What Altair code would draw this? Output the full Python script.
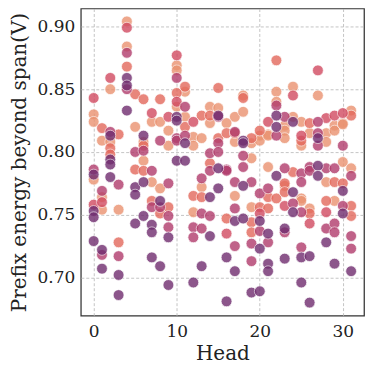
import altair as alt
import pandas as pd

# values per head (0..31)
head_values = [
    [.843, .830, .824, .786, .782, .778, .758, .753, .748, .729],
    [.819, .809, .769, .764, .760, .754, .722, .718, .707],
    [.859, .850, .816, .813, .808, .803, .798, .794, .790, .780],
    [.814, .774, .754, .728, .717, .702, .686],
    [.904, .899, .884, .879, .868, .859, .853, .850, .833],
    [.846, .820, .800, .786, .772, .766, .743],
    [.842, .813, .808, .805, .801, .793, .785, .776, .749],
    [.831, .824, .785, .776, .761, .756, .742, .736, .716],
    [.842, .824, .809, .771, .761, .756, .751, .709],
    [.828, .817, .805, .775, .756, .749, .740, .732, .694],
    [.877, .869, .865, .859, .847, .840, .836, .828, .825, .811, .809, .793],
    [.852, .848, .836, .828, .820, .813, .807, .793],
    [.824, .812, .805, .765, .752, .740, .732, .696],
    [.829, .811, .779, .772, .764, .751, .739, .709],
    [.836, .829, .823, .799, .791, .785, .764, .749, .733],
    [.851, .835, .829, .828, .811, .807, .800, .787, .771],
    [.823, .815, .786, .785, .747, .735, .716, .681],
    [.828, .816, .815, .808, .776, .765, .755, .745, .725, .705],
    [.845, .843, .832, .809, .807, .797, .788, .773, .747],
    [.811, .807, .795, .776, .756, .744, .736, .727, .713, .688],
    [.817, .813, .809, .767, .756, .751, .745, .737, .723, .689],
    [.824, .814, .813, .788, .771, .764, .755, .735, .728, .711, .705],
    [.873, .848, .840, .837, .829, .820, .813, .781, .763],
    [.828, .821, .817, .811, .787, .775, .773, .768, .757, .739, .736, .715],
    [.852, .845, .828, .824, .784, .768, .759, .752],
    [.824, .813, .809, .805, .783, .776, .763, .761, .752, .724, .716, .696],
    [.823, .815, .788, .785, .755, .751, .743, .717, .680],
    [.865, .845, .824, .815, .811, .805, .789, .781],
    [.827, .815, .808, .787, .776, .761, .752, .739, .728],
    [.829, .821, .817, .787, .776, .761, .743, .736, .711],
    [.831, .823, .822, .805, .792, .775, .769, .757, .751],
    [.833, .829, .787, .781, .757, .749, .733, .723, .705],
]

# colour group per point: P peach, R red, K pink, M magenta, U purple
head_groups = [
    "KPPMUPKUUU",
    "RPMPKPUMU",
    "KPMUPRRUUU",
    "RMPRMUU",
    "PKPMRUUMU",
    "RPMRUUU",
    "RUPRMPRUU",
    "KPMPRMUUU",
    "RPMPUMRU",
    "KPPMRMMUU",
    "KPPMRKPUUMMU",
    "RPMPRMUU",
    "KPPRPMMU",
    "RPMPRMMU",
    "PRPMRMUMU",
    "RPUMRMMUU",
    "PRMMRKUU",
    "PMRPMPMUMU",
    "PRPUUMMUU",
    "RPPMPRRMMU",
    "RPPMRKUMUU",
    "KPPPMRRUMUU",
    "RPPMUUMUR",
    "MPPPMRPRKUMU",
    "PKPURUMU",
    "PKRPMMPPMMUU",
    "RPMMPRKUU",
    "KPMMUMUU",
    "KPPMPRKMU",
    "KPPMRPMMU",
    "KPPMPRUMU",
    "PRPMRRMMU",
]

group_level = {"P": 0, "R": 1, "K": 2, "M": 3, "U": 4.6}

rows = []
for h, (vals, grps) in enumerate(zip(head_values, head_groups)):
    for v, g in zip(vals, grps):
        rows.append({"head": h, "value": v, "layer": group_level[g]})
df = pd.DataFrame(rows).sort_values("layer", kind="stable")

serif = "DejaVu Serif"
axis_common = dict(
    ticks=False, domain=False, gridDash=[3, 2], gridColor="#b5b5b5", gridWidth=0.8,
    labelFont=serif, titleFont=serif, labelFontSize=17, titleFontSize=20,
    labelColor="#222222", titleColor="#222222", titleFontWeight="normal",
)

chart = alt.Chart(df).mark_circle(
    size=118, opacity=0.8, stroke="white", strokeWidth=0.7
).encode(
    x=alt.X("head:Q", scale=alt.Scale(domain=[-1.55, 32.55], nice=False, zero=False),
            axis=alt.Axis(values=[0, 10, 20, 30], format="d", title="Head",
                          labelPadding=8, titlePadding=4, **axis_common)),
    y=alt.Y("value:Q", scale=alt.Scale(domain=[0.6696, 0.9143], nice=False, zero=False),
            axis=alt.Axis(values=[0.70, 0.75, 0.80, 0.85, 0.90], format=".2f",
                          title="Prefix energy beyond span(V)",
                          labelPadding=6, titlePadding=8, **axis_common)),
    color=alt.Color("layer:Q", scale=alt.Scale(
        domain=[0, 1, 2, 3, 4, 5],
        range=["#ea9270", "#e3685c", "#d14a61", "#b13c6c", "#8a3372", "#5e2a6c"]),
        legend=None),
).properties(
    width=284, height=308, autosize="none",
    padding={"left": 73, "top": 0, "right": 1, "bottom": 50},
    background="white",
).configure_view(stroke="#333333", strokeWidth=1.25)

chart.save("out.html", embed_options={"renderer": "svg", "actions": False})
